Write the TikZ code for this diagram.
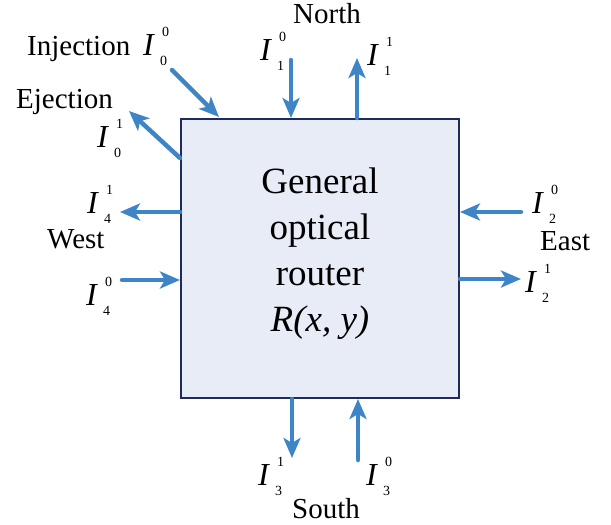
\documentclass[tikz,border=0pt]{standalone}
\usepackage{fontspec}
\setmainfont{Liberation Serif}
\usetikzlibrary{arrows.meta}
\definecolor{PortClr}{RGB}{62,133,200}
\definecolor{RouterClr}{RGB}{232,236,246}
\definecolor{EdgeClr}{RGB}{31,42,94}

% port label: I with the port number below and the direction bit above
\newcommand{\port}[2]{{\fontsize{32}{32}\selectfont\textit{I}}\kern5pt\rlap{\kern2pt\raisebox{19pt}{\fontsize{14}{14}\selectfont #2}}\raisebox{-10pt}{\fontsize{14}{14}\selectfont #1}}

\tikzset{
  link/.style={line width=4.5pt,color=PortClr,line cap=round,
    -{Stealth[length=20pt,width=17pt,inset=5pt]}},
  lbl/.style={anchor=base west,inner sep=0pt,font=\fontsize{29}{34}\selectfont},
}

\begin{document}
\begin{tikzpicture}[x=1pt,y=-1pt]
\useasboundingbox (0,0) rectangle (611,525);

\node[draw=EdgeClr,line width=2pt,fill=RouterClr,minimum width=278pt,minimum height=279pt]
  (router) at (320,258.5) {};
\node[align=center,font=\fontsize{37}{46}\selectfont] (name) at (320,254)
  {General\\optical\\router\\\textit{R(x, y)}};

% free ends of the links
\coordinate (inj)  at (172,70);
\coordinate (ej)   at (129,111);
\coordinate (n0)   at (291,60);
\coordinate (n1)   at (357,58);
\coordinate (w1)   at (120,212);
\coordinate (w0)   at (122,280);
\coordinate (e0)   at (521,212);
\coordinate (e1)   at (521,279);
\coordinate (s1)   at (292,458);
\coordinate (s0)   at (358,460);
\coordinate (ejb)  at (router.west |- 0,158);
\coordinate (injt) at (219,117);

\draw[link] (inj) -- (injt);
\draw[link] (ejb) -- (ej);
\draw[link] (n0) -- (n0 |- router.north);
\draw[link] (n1 |- router.north) -- (n1);
\draw[link] (w1 -| router.west) -- (w1);
\draw[link] (w0) -- (w0 -| router.west);
\draw[link] (e0) -- (e0 -| router.east);
\draw[link] (e1 -| router.east) -- (e1);
\draw[link] (s1 |- router.south) -- (s1);
\draw[link] (s0) -- (s0 |- router.south);

\node[lbl] (tInj)  at (27,55)   {Injection};
\node[lbl] (pInj)  at (143,55)  {\port{0}{0}};
\node[lbl] (tEj)   at (16,108)  {Ejection};
\node[lbl] (pEj)   at (97,147)  {\port{0}{1}};
\node[lbl,anchor=base] (tN) at (327,23) {North};
\node[lbl] (pN0)   at (260,60)  {\port{1}{0}};
\node[lbl] (pN1)   at (367,65)  {\port{1}{1}};
\node[lbl] (pW1)   at (87,213)  {\port{4}{1}};
\node[lbl] (tW)    at (47,248)  {West};
\node[lbl] (pW0)   at (86,305)  {\port{4}{0}};
\node[lbl] (pE0)   at (532,213) {\port{2}{0}};
\node[lbl] (tE)    at (540,250) {East};
\node[lbl] (pE1)   at (525,292) {\port{2}{1}};
\node[lbl] (pS1)   at (258,485) {\port{3}{1}};
\node[lbl] (pS0)   at (366,485) {\port{3}{0}};
\node[lbl] (tS)    at (292,518) {South};
\end{tikzpicture}
\end{document}
